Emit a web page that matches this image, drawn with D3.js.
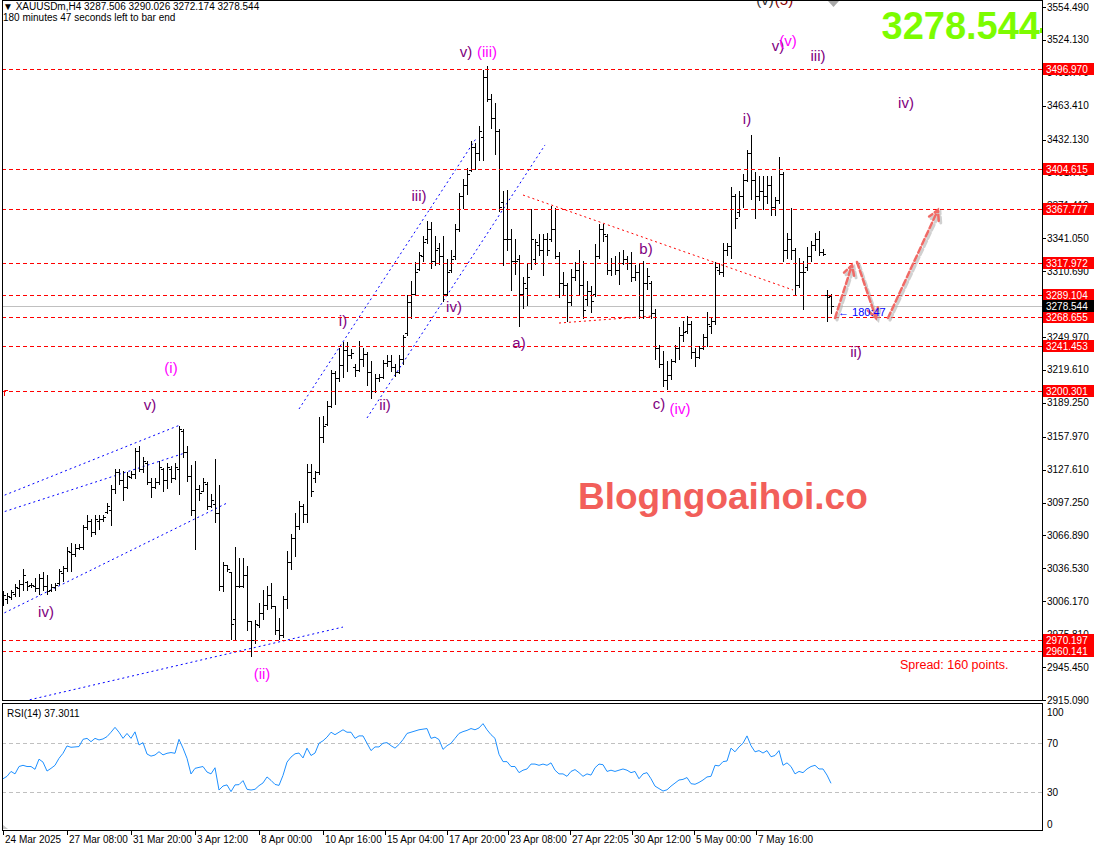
<!DOCTYPE html>
<html>
<head>
<meta charset="utf-8">
<script src="https://cdn.jsdelivr.net/npm/d3@7"></script>
<style>
body { margin: 0; background: #fff; }
text { font-family: "Liberation Sans", Arial, sans-serif; }
</style>
</head>
<body>
<div id="chart"></div>
<script>
// XAUUSDm H4 bars (bar 0 = 24 Mar 2025)
const opens = [3006,3008,3010,3013,3018,3022,3024,3021,3020,3018,3028,3020,3017,3019,3023,3032,3037,3052,3050,3055,
  3056,3075,3080,3070,3080,3082,3089,3090,3110,3125,3118,3112,3121,3124,3145,3128,3134,3116,3112,3116,
  3128,3118,3128,3120,3128,3163,3144,3122,3090,3110,3108,3114,3094,3096,3088,3020,3040,3033,2990,3020,
  3020,3030,2988,2970,2984,2995,3003,3012,3002,2980,2975,3008,3042,3065,3076,3094,3087,3125,3120,3125,
  3158,3170,3186,3217,3212,3224,3238,3233,3222,3220,3230,3234,3218,3200,3212,3213,3226,3228,3222,3218,
  3230,3254,3282,3290,3313,3325,3340,3350,3320,3332,3325,3290,3312,3325,3350,3380,3390,3404,3425,3420,
  3435,3490,3470,3452,3440,3375,3340,3340,3320,3322,3290,3295,3318,3322,3335,3330,3340,3340,3350,3325,
  3300,3298,3282,3305,3312,3298,3285,3292,3290,3325,3350,3343,3312,3318,3312,3318,3322,3318,3305,3310,
  3275,3300,3300,3272,3240,3225,3210,3215,3228,3240,3252,3256,3262,3236,3232,3240,3250,3260,3265,3312,
  3310,3330,3334,3380,3365,3380,3395,3420,3395,3380,3385,3380,3390,3370,3376,3400,3330,3340,3330,3298,
  3310,3315,3325,3335,3340,3328,3289,3287.506];
const highs = [3016,3014,3017,3022,3026,3036,3025,3023,3028,3031,3033,3030,3022,3023,3036,3039,3056,3060,3059,3059,
  3077,3086,3082,3086,3086,3086,3097,3113,3128,3128,3126,3125,3126,3148,3149,3139,3136,3120,3120,3136,
  3129,3134,3131,3134,3168,3165,3149,3132,3136,3113,3120,3116,3105,3137,3113,3042,3040,3033,3056,3046,
  3046,3039,2988,2989,3005,3017,3020,3023,3002,2991,3011,3053,3068,3088,3099,3096,3133,3133,3126,3176,
  3177,3191,3220,3219,3240,3245,3245,3239,3225,3246,3240,3236,3228,3216,3216,3229,3233,3233,3225,3233,
  3252,3289,3302,3319,3328,3343,3357,3356,3343,3337,3343,3322,3330,3354,3383,3396,3406,3431,3429,3445,
  3496,3500,3474,3466,3442,3385,3386,3350,3340,3326,3305,3317,3368,3340,3345,3345,3346,3371,3369,3328,
  3310,3300,3313,3319,3330,3320,3302,3297,3336,3354,3354,3345,3323,3325,3328,3330,3325,3328,3316,3317,
  3320,3314,3302,3276,3243,3237,3228,3230,3243,3259,3265,3269,3265,3240,3242,3253,3273,3268,3319,3317,
  3337,3337,3388,3382,3385,3400,3423,3436,3402,3399,3399,3399,3399,3379,3416,3402,3346,3369,3332,3323,
  3320,3333,3339,3346,3348,3331,3293,3290.026];
const lows = [3003,3005,3008,3011,3011,3017,3017,3019,3016,3013,3017,3013,3016,3017,3022,3025,3034,3034,3048,3054,
  3054,3073,3066,3068,3073,3080,3088,3077,3106,3114,3100,3111,3120,3120,3126,3125,3114,3102,3111,3114,
  3108,3111,3116,3119,3105,3139,3117,3086,3054,3100,3108,3091,3093,3079,3017,3016,3034,2971,2971,3019,
  3019,2980,2956,2968,2982,2990,2999,3000,2976,2971,2973,3000,3036,3048,3073,3079,3079,3103,3116,3124,
  3153,3169,3185,3188,3209,3213,3219,3231,3214,3219,3223,3206,3194,3199,3209,3212,3223,3219,3214,3217,
  3225,3252,3268,3289,3312,3320,3337,3314,3316,3317,3283,3289,3310,3322,3348,3369,3382,3403,3405,3413,
  3413,3468,3443,3419,3366,3316,3330,3293,3308,3260,3277,3280,3313,3317,3326,3307,3326,3339,3323,3287,
  3290,3265,3280,3303,3290,3268,3280,3273,3288,3323,3339,3308,3307,3308,3299,3317,3313,3302,3303,3268,
  3268,3294,3268,3230,3222,3205,3202,3211,3227,3230,3246,3254,3231,3223,3231,3239,3242,3254,3262,3308,
  3306,3326,3323,3351,3362,3370,3394,3377,3360,3376,3368,3374,3363,3363,3374,3320,3323,3322,3290,3296,
  3276,3312,3320,3330,3326,3326,3265,3272.174];
const closes = [3012,3011,3015,3019,3022,3030,3020,3021,3018,3028,3020,3016,3019,3021,3034,3037,3053,3050,3055,3056,
  3075,3080,3070,3082,3082,3084,3094,3110,3125,3118,3112,3122,3124,3145,3128,3136,3116,3112,3116,3130,
  3118,3130,3120,3130,3165,3144,3122,3090,3110,3106,3116,3094,3100,3088,3020,3040,3036,2985,3020,3020,
  3030,2988,2970,2985,2995,3003,3012,3002,2980,2975,3008,3042,3065,3076,3094,3087,3125,3108,3125,3158,
  3168,3186,3217,3212,3224,3238,3233,3235,3220,3230,3234,3218,3200,3212,3213,3226,3228,3222,3218,3230,
  3250,3282,3290,3310,3326,3338,3350,3320,3330,3325,3290,3310,3322,3350,3380,3390,3400,3425,3420,3440,
  3490,3470,3452,3440,3370,3340,3340,3320,3320,3290,3300,3305,3340,3338,3330,3340,3330,3350,3325,3300,
  3298,3282,3305,3312,3298,3275,3292,3283,3325,3350,3345,3312,3318,3312,3318,3322,3318,3305,3310,3275,
  3300,3306,3272,3240,3225,3210,3215,3228,3240,3252,3255,3262,3236,3232,3240,3250,3262,3265,3315,3310,
  3330,3334,3380,3360,3380,3395,3420,3395,3380,3385,3380,3390,3370,3376,3400,3330,3340,3330,3298,3310,
  3310,3325,3335,3340,3328,3327,3287,3278.544];

// RSI(14), one value per bar
const rsiValues = [41,43,47,45,51,52,51,51,48.7,57,54.6,47.3,49.5,52,57.7,61.8,67.8,66.7,67,67.3,
  73.2,74,71.3,74,72.7,73.5,75.4,79,83,79,74,78,74,79.3,68.6,70.5,61.2,59.5,60.4,63.1,
  60.5,61.8,62.4,61.8,73.2,66,57.7,44.9,49.5,50.3,51,46.5,45,50,31.8,35.1,36,30.5,36,36.2,
  39.5,32.4,31.8,32.4,35.4,37.6,42.5,39.7,36.4,35.6,43.8,54.6,58.7,61.4,62,58,66,60,62,70,
  72,75,79,77,79,81,79,79,74,76,76,70,64,67,67,70,70.5,68,66,69,
  73,78,79,80,81,81.5,82,74,75,73,65,68,70,74,78,79.5,80.5,82,81,82.5,
  86,81,77,74,61,55,55,51,51,46,48,49,53,53,52,53,52,54,48,45,
  45,43,47,48.5,46,43,45,44,50,53,52.5,47,48,47,48,49,48,46,47,41,
  45,46,41,35,33,31,32,35,37.5,40,40.5,42,37,36.5,38,40,42.5,43,52,51.5,
  55,55.5,66,63,67,70,76,68,63,64,62,64,59,60,64,52,54,51,45,47,
  46,49,51,52,49,49,44,37.3011];

const priceTicks = [3554.49,3524.13,3493.77,3463.41,3432.13,3401.77,3371.41,3341.05,3310.69,3280.33,3249.97,
  3219.61,3189.25,3157.97,3127.61,3097.25,3066.89,3036.53,3006.17,2975.81,2945.45,2915.09];
const levelPrices = [3496.970,3404.615,3367.777,3317.972,3289.104,3268.655,3241.453,3200.301,2970.197,2960.141];
const lastPrice = 3278.544;
const rsiTicks = [100,70,30,0];
const timeTickIdx = [0,16,32,48,64,80,95.5,111,126.25,141.75,157.25,172.75,188.25];
const timeTickLabels = ["24 Mar 2025","27 Mar 08:00","31 Mar 20:00","3 Apr 12:00","8 Apr 00:00","10 Apr 16:00",
  "15 Apr 04:00","17 Apr 20:00","23 Apr 08:00","27 Apr 22:05","30 Apr 12:00","5 May 00:00","7 May 16:00"];

// drawn objects on the chart: [bar, price] anchors
const blueLines = [[[-0.75,3102.4],[44.25,3168.8]], [[-0.75,3087.6],[45.5,3143.0]], [[-0.75,2993.5],[56,3096.8]],
  [[4.25,2913.2],[85,2982.4]], [[74,3183.6],[118.5,3434.5]], [[91,3175.3],[135.5,3427.2]]];
const redDotLines = [[[130,3381.0],[197.5,3293.4]], [[139,3262.9],[162.5,3269.4]]];
const waveLabels = [
  {k:115.75,p:3513.0,t:"v)",c:"#800080"}, {k:121,p:3513.0,t:"(iii)",c:"#ff00ff"},
  {k:104,p:3381.0,t:"iii)",c:"#800080"}, {k:112.75,p:3277.7,t:"iv)",c:"#800080"},
  {k:85,p:3264.8,t:"i)",c:"#800080"}, {k:95.5,p:3187.3,t:"ii)",c:"#800080"},
  {k:42,p:3222.3,t:"(i)",c:"#ff00ff"}, {k:36.75,p:3187.3,t:"v)",c:"#800080"},
  {k:10.75,p:2996.3,t:"iv)",c:"#800080"}, {k:64.75,p:2940.0,t:"(ii)",c:"#ff00ff"},
  {k:129,p:3244.5,t:"a)",c:"#800080"}, {k:160.75,p:3332.1,t:"b)",c:"#800080"},
  {k:164,p:3188.2,t:"c)",c:"#800080"}, {k:169.25,p:3184.5,t:"(iv)",c:"#ff00ff"},
  {k:186,p:3451.2,t:"i)",c:"#800080"}, {k:193.75,p:3519.4,t:"v)",c:"#800080"},
  {k:196.25,p:3524.0,t:"(v)",c:"#ff00ff"}, {k:203.75,p:3510.2,t:"iii)",c:"#800080"},
  {k:225.75,p:3466.8,t:"iv)",c:"#800080"}, {k:213.25,p:3236.2,t:"ii)",c:"#800080"},
  {k:190.5,p:3561.5,t:"(v)",c:"#303030"}, {k:195.25,p:3561.5,t:"(5)",c:"#8b0000"}
];
const arrows = [[[208,3267.5],[212.25,3316.4]], [[213.5,3319.2],[218.25,3267.5]], [[221.25,3267.5],[233.75,3367.2]]];

const width = 1095, height = 852;
const axisX = 1042;

const svg = d3.select("#chart").append("svg")
  .attr("width", width)
  .attr("height", height);

svg.append("rect").attr("width", width).attr("height", height).attr("fill", "#fff");

const x = d3.scaleLinear().domain([0, 207]).range([3, 831]);
const y = d3.scaleLinear().domain([2915.09, 3554.49]).range([700, 7]);
const yr = d3.scaleLinear().domain([0, 100]).range([829, 706.5]);

const defs = svg.append("defs");
defs.append("clipPath").attr("id", "clipMain").append("rect")
  .attr("x", 2).attr("y", 1).attr("width", axisX - 2).attr("height", 700);
defs.append("clipPath").attr("id", "clipRsi").append("rect")
  .attr("x", 2).attr("y", 704).attr("width", axisX - 2).attr("height", 126);

const main = svg.append("g").attr("clip-path", "url(#clipMain)");
const rsiG = svg.append("g").attr("clip-path", "url(#clipRsi)");

// current price line
main.append("line")
  .attr("x1", 2).attr("x2", axisX)
  .attr("y1", Math.round(y(lastPrice)) + 0.5)
  .attr("y2", Math.round(y(lastPrice)) + 0.5)
  .attr("stroke", "#c0c0c0");

// channel lines
main.selectAll(".blue")
  .data(blueLines)
  .enter().append("line")
  .attr("class", "blue")
  .attr("x1", d => x(d[0][0])).attr("y1", d => y(d[0][1]))
  .attr("x2", d => x(d[1][0])).attr("y2", d => y(d[1][1]))
  .attr("stroke", "#0000ff")
  .attr("stroke-dasharray", "2,3");

main.selectAll(".reddot")
  .data(redDotLines)
  .enter().append("line")
  .attr("class", "reddot")
  .attr("x1", d => x(d[0][0])).attr("y1", d => y(d[0][1]))
  .attr("x2", d => x(d[1][0])).attr("y2", d => y(d[1][1]))
  .attr("stroke", "#ff0000")
  .attr("stroke-dasharray", "2,3");

// OHLC bars
const bars = main.append("g").attr("stroke", "#000").attr("shape-rendering", "crispEdges");
opens.forEach((o, i) => {
  const xp = Math.round(x(i)) + 0.5;
  bars.append("line").attr("x1", xp).attr("x2", xp)
    .attr("y1", Math.round(y(highs[i]))).attr("y2", Math.round(y(lows[i])) + 1);
  const yo = Math.round(y(o)) + 0.5, yc = Math.round(y(closes[i])) + 0.5;
  bars.append("line").attr("x1", xp - 2.5).attr("x2", xp).attr("y1", yo).attr("y2", yo);
  bars.append("line").attr("x1", xp).attr("x2", xp + 2.5).attr("y1", yc).attr("y2", yc);
});

// level lines, on top of the bars
main.append("g")
  .attr("shape-rendering", "crispEdges")
  .selectAll("line")
  .data(levelPrices)
  .enter().append("line")
  .attr("x1", 2).attr("x2", axisX)
  .attr("y1", d => Math.round(y(d)) + 0.5)
  .attr("y2", d => Math.round(y(d)) + 0.5)
  .style("stroke", "rgb(255,0,0)")
  .style("stroke-width", 1)
  .style("stroke-dasharray", "4,3");

// wave labels
main.selectAll(".wave")
  .data(waveLabels)
  .enter().append("text")
  .attr("class", "wave")
  .attr("x", d => x(d.k))
  .attr("y", d => y(d.p))
  .attr("text-anchor", "middle")
  .attr("dominant-baseline", "central")
  .attr("font-size", 15)
  .attr("fill", d => d.c)
  .text(d => d.t);

// forecast arrows
const arrowG = main.append("g").attr("fill", "none").attr("stroke-linecap", "round");
function arrowPath(a, dx, dy) {
  const x1 = x(a[0][0]) + dx, y1 = y(a[0][1]) + dy, x2 = x(a[1][0]) + dx, y2 = y(a[1][1]) + dy;
  const ang = Math.atan2(y2 - y1, x2 - x1), hl = 11;
  const h1 = [x2 - hl * Math.cos(ang - 0.5), y2 - hl * Math.sin(ang - 0.5)];
  const h2 = [x2 - hl * Math.cos(ang + 0.5), y2 - hl * Math.sin(ang + 0.5)];
  return `M${x1},${y1}L${x2},${y2}M${h1[0]},${h1[1]}L${x2},${y2}L${h2[0]},${h2[1]}`;
}
arrows.forEach(a => {
  arrowG.append("path").attr("d", arrowPath(a, 2, 2))
    .attr("stroke", "#b0b0b0").attr("stroke-width", 3).attr("stroke-dasharray", "6,3").attr("opacity", 0.6);
  arrowG.append("path").attr("d", arrowPath(a, 0, 0))
    .attr("stroke", "#f06a66").attr("stroke-width", 2.5).attr("stroke-dasharray", "6,3");
});

main.append("text").attr("x", 838).attr("y", 316)
  .attr("font-size", 11).attr("fill", "#0000ff").text("← 180:47");

main.append("text").attr("x", 578).attr("y", 509)
  .attr("font-size", 37).attr("font-weight", "bold").attr("fill", "#f25f5a")
  .text("Blogngoaihoi.co");

main.append("text").attr("x", 1040).attr("y", 39)
  .attr("text-anchor", "end")
  .attr("font-size", 38).attr("font-weight", "bold").attr("fill", "#7cfc00")
  .text(lastPrice.toFixed(3));

main.append("text").attr("x", 900).attr("y", 669)
  .attr("font-size", 12.5).attr("fill", "#ff0000").text("Spread: 160 points.");

main.append("path").attr("d", "M828,1L839,1L833.5,7Z").attr("fill", "#a8a8a8");
main.append("path").attr("d", "M4.5,396V390.5H8").attr("fill", "none").attr("stroke", "#ff0000");

// header
svg.append("text").attr("x", 3).attr("y", 10).attr("font-size", 10)
  .text("▼ XAUUSDm,H4  3287.506 3290.026 3272.174 3278.544");
svg.append("text").attr("x", 3).attr("y", 21).attr("font-size", 10)
  .text("180 minutes 47 seconds left to bar end");

// RSI panel
rsiG.selectAll(".rsilevel")
  .data([70, 30])
  .enter().append("line")
  .attr("class", "rsilevel")
  .attr("x1", 2).attr("x2", axisX)
  .attr("y1", d => Math.round(yr(d)) + 0.5).attr("y2", d => Math.round(yr(d)) + 0.5)
  .attr("stroke", "#c0c0c0").attr("stroke-dasharray", "4,3");

rsiG.append("path")
  .datum(rsiValues)
  .attr("fill", "none")
  .attr("stroke", "#1e90ff")
  .attr("d", d3.line().x((d, i) => x(i)).y(d => yr(d)));

svg.append("text").attr("x", 7).attr("y", 717).attr("font-size", 10)
  .text("RSI(14) 37.3011");
svg.append("path").attr("d", "M3,825L3,829L8,829Z").attr("fill", "#c8c8c8");

// frames
const frame = svg.append("g").attr("stroke", "#000").attr("fill", "none").attr("shape-rendering", "crispEdges");
frame.append("rect").attr("x", 2.5).attr("y", 0.5).attr("width", axisX - 2).attr("height", 700);
frame.append("rect").attr("x", 2.5).attr("y", 703.5).attr("width", axisX - 2).attr("height", 127);

// price axis
const pAxis = svg.append("g");
pAxis.selectAll(".pt")
  .data(priceTicks)
  .enter().append("line")
  .attr("class", "pt")
  .attr("x1", axisX).attr("x2", axisX + 4)
  .attr("y1", d => Math.round(y(d)) + 0.5).attr("y2", d => Math.round(y(d)) + 0.5)
  .attr("stroke", "#000");
pAxis.selectAll(".pl")
  .data(priceTicks)
  .enter().append("text")
  .attr("class", "pl")
  .attr("x", axisX + 5)
  .attr("y", d => y(d))
  .attr("dominant-baseline", "central")
  .attr("font-size", 10)
  .text(d => d.toFixed(3));

const lvl = pAxis.selectAll(".lvl").data(levelPrices).enter().append("g").attr("class", "lvl");
lvl.append("rect").attr("x", axisX + 1).attr("y", d => Math.round(y(d)) - 6)
  .attr("width", 51).attr("height", 12).attr("fill", "#ff0000");
lvl.append("text").attr("x", axisX + 4).attr("y", d => Math.round(y(d)) + 0.5)
  .attr("dominant-baseline", "central").attr("font-size", 10).attr("fill", "#fff")
  .text(d => d.toFixed(3));
lvl.append("line").attr("x1", axisX - 3).attr("x2", axisX)
  .attr("y1", d => Math.round(y(d)) + 0.5).attr("y2", d => Math.round(y(d)) + 0.5)
  .attr("stroke", "#ff0000");

pAxis.append("rect").attr("x", axisX + 1).attr("y", Math.round(y(lastPrice)) - 6)
  .attr("width", 51).attr("height", 12).attr("fill", "#000");
pAxis.append("text").attr("x", axisX + 4).attr("y", Math.round(y(lastPrice)) + 0.5)
  .attr("dominant-baseline", "central").attr("font-size", 10).attr("fill", "#fff")
  .text(lastPrice.toFixed(3));
pAxis.append("rect").attr("x", axisX - 2).attr("y", 28).attr("width", 2).attr("height", 5).attr("fill", "#7cfc00");

// RSI axis
svg.selectAll(".rl")
  .data(rsiTicks)
  .enter().append("text")
  .attr("class", "rl")
  .attr("x", axisX + 5)
  .attr("y", d => Math.max(712.5, Math.min(824, yr(d))))
  .attr("dominant-baseline", "central")
  .attr("font-size", 10)
  .text(d => d);

// time axis
const tAxis = svg.append("g");
tAxis.selectAll(".tt")
  .data(timeTickIdx)
  .enter().append("line")
  .attr("class", "tt")
  .attr("x1", d => Math.round(x(d)) + 0.5).attr("x2", d => Math.round(x(d)) + 0.5)
  .attr("y1", 830).attr("y2", 835)
  .attr("stroke", "#000");
tAxis.selectAll(".tl")
  .data(timeTickIdx)
  .enter().append("text")
  .attr("class", "tl")
  .attr("x", d => Math.round(x(d)) + 2)
  .attr("y", 843)
  .attr("font-size", 10)
  .text((d, i) => timeTickLabels[i]);
</script>
</body>
</html>
